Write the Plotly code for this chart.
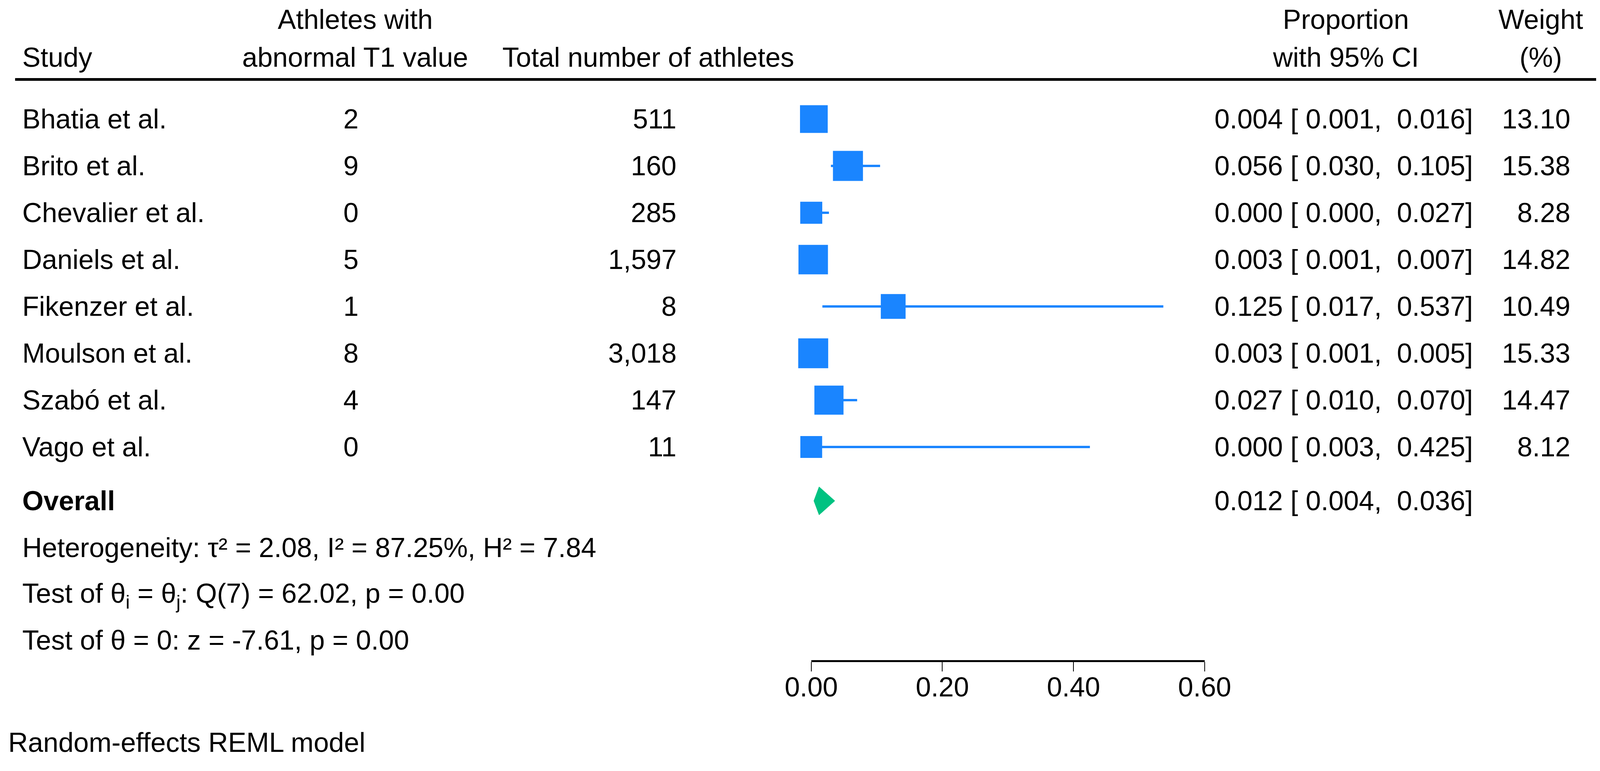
import plotly.graph_objects as go

# ---------------- data ----------------
studies = ["Bhatia et al.", "Brito et al.", "Chevalier et al.", "Daniels et al.",
           "Fikenzer et al.", "Moulson et al.", "Szabó et al.", "Vago et al."]
abnormal = [2, 9, 0, 5, 1, 8, 4, 0]
total = [511, 160, 285, 1597, 8, 3018, 147, 11]
prop = [0.004, 0.056, 0.000, 0.003, 0.125, 0.003, 0.027, 0.000]
ci_low = [0.001, 0.030, 0.000, 0.001, 0.017, 0.001, 0.010, 0.003]
ci_high = [0.016, 0.105, 0.027, 0.007, 0.537, 0.005, 0.070, 0.425]
weight = [13.10, 15.38, 8.28, 14.82, 10.49, 15.33, 14.47, 8.12]

overall_est = 0.012
overall_low = 0.004
overall_high = 0.036

header_cols = [["", "Study"],
               ["Athletes with", "abnormal T1 value"],
               ["", "Total number of athletes"],
               ["Proportion", "with 95% CI"],
               ["Weight", "(%)"]]
stats_lines = ["Heterogeneity: τ² = 2.08, I² = 87.25%, H² = 7.84",
               "Test of θ<sub>i</sub> = θ<sub>j</sub>: Q(7) = 62.02, p = 0.00",
               "Test of θ = 0: z = -7.61, p = 0.00"]
footnote = "Random-effects REML model"
tick_vals = [0.0, 0.2, 0.4, 0.6]
tick_text = ["0.00", "0.20", "0.40", "0.60"]

# ---------------- layout constants ----------------
W, H = 4128, 1975
ROW0_PX, ROW_PX = 305, 120          # pixel of first study row, row pitch
FONT = "Liberation Sans"
FS = 70
BLUE = "#1A85FF"
GREEN = "#00C281"

def rpx(p):  # pixel y -> row units
    return (p - ROW0_PX) / ROW_PX

def xp(p):   # pixel x -> paper
    return p / W

rows = list(range(len(studies)))
overall_row = rpx(1283)
stats_rows = [rpx(1403), rpx(1525), rpx(1640)]
foot_row = rpx(1902)
head_rows = [rpx(50), rpx(147)]
rule_row = rpx(203.5)
AXIS_PX = 1693

fig = go.Figure()

# CI lines
lx, ly = [], []
for r, lo, hi in zip(rows, ci_low, ci_high):
    lx += [lo, hi, None]
    ly += [r, r, None]
fig.add_trace(go.Scatter(x=lx, y=ly, mode="lines",
                         line=dict(color=BLUE, width=6),
                         cliponaxis=False, hoverinfo="skip", showlegend=False))

# weighted squares
fig.add_trace(go.Scatter(x=prop, y=rows, mode="markers",
                         marker=dict(symbol="square", color=BLUE, opacity=1,
                                     size=[19.6 * w ** 0.5 for w in weight],
                                     line=dict(width=0)),
                         cliponaxis=False, showlegend=False))

# overall diamond
dh = 0.3
fig.add_trace(go.Scatter(
    x=[overall_low, overall_est, overall_high, overall_est, overall_low],
    y=[overall_row, overall_row - dh, overall_row, overall_row + dh, overall_row],
    mode="lines", fill="toself", fillcolor=GREEN,
    line=dict(color=GREEN, width=1), cliponaxis=False, showlegend=False))

ann = []
def add(text, x, y, anchor, bold=False):
    if bold:
        text = "<b>" + text + "</b>"
    ann.append(dict(text=text, x=x, y=y, xref="paper", yref="y",
                    xanchor=anchor, yanchor="middle", showarrow=False,
                    font=dict(family=FONT, size=FS, color="black")))

# headers
head_x = [(xp(55), "left"), (xp(917), "center"), (xp(1672), "center"),
          (xp(3472), "center"), (xp(3975), "center")]
for (x, anc), lines in zip(head_x, header_cols):
    for hr, t in zip(head_rows, lines):
        if t:
            add(t, x, hr, anc)

NB = "\u00a0"
for r, s, a, n, p, lo, hi, w in zip(rows, studies, abnormal, total, prop,
                                     ci_low, ci_high, weight):
    add(s, xp(55), r, "left")
    add(str(a), xp(906), r, "center")
    add(f"{n:,}", xp(1748), r, "right")
    add(f"{p:.3f}{NB}[{NB}{lo:.3f},{NB}{NB}{hi:.3f}]", xp(3802), r, "right")
    add(f"{w:.2f}", xp(4053), r, "right")

add("Overall", xp(55), overall_row, "left", bold=True)
add(f"{overall_est:.3f}{NB}[{NB}{overall_low:.3f},{NB}{NB}{overall_high:.3f}]",
    xp(3802), overall_row, "right")

for sr, t in zip(stats_rows, stats_lines):
    add(t, xp(55), sr, "left")
add(footnote, xp(19), foot_row, "left")

shapes = [dict(type="line", xref="paper", yref="y",
               x0=xp(39), x1=xp(4118), y0=rule_row, y1=rule_row,
               line=dict(color="black", width=7))]

fig.update_layout(
    width=W, height=H,
    margin=dict(l=0, r=0, t=0, b=0, pad=0, autoexpand=False),
    paper_bgcolor="white", plot_bgcolor="white",
    showlegend=False,
    annotations=ann, shapes=shapes,
    xaxis=dict(domain=[xp(2093), xp(3108)], range=[0, 0.6],
               anchor="free", position=1 - AXIS_PX / H, automargin=False,
               showline=True, linecolor="black", linewidth=5,
               ticks="outside", ticklen=24, tickwidth=2, tickcolor="black",
               tickvals=tick_vals, ticktext=tick_text, ticklabelstandoff=-20,
               tickfont=dict(family=FONT, size=FS, color="black"),
               showgrid=False, zeroline=False, fixedrange=True),
    yaxis=dict(domain=[0, 1], range=[rpx(H), rpx(0)], visible=False,
               automargin=False,
               showgrid=False, zeroline=False, fixedrange=True),
)

fit_script = """
var gd = document.getElementById('{plot_id}');
var de = document.documentElement;
de.style.margin = '0'; document.body.style.margin = '0';
de.style.overflow = 'hidden'; document.body.style.overflow = 'hidden';
var w = de.clientWidth || window.innerWidth;
var h = de.clientHeight || window.innerHeight;
if (w > 0 && h > 0) {
    gd.style.width = w + 'px'; gd.style.height = h + 'px';
    return Plotly.relayout(gd, {width: w, height: h});
}
"""

fig.write_html("out.html", config={"displayModeBar": False},
               post_script=fit_script)
